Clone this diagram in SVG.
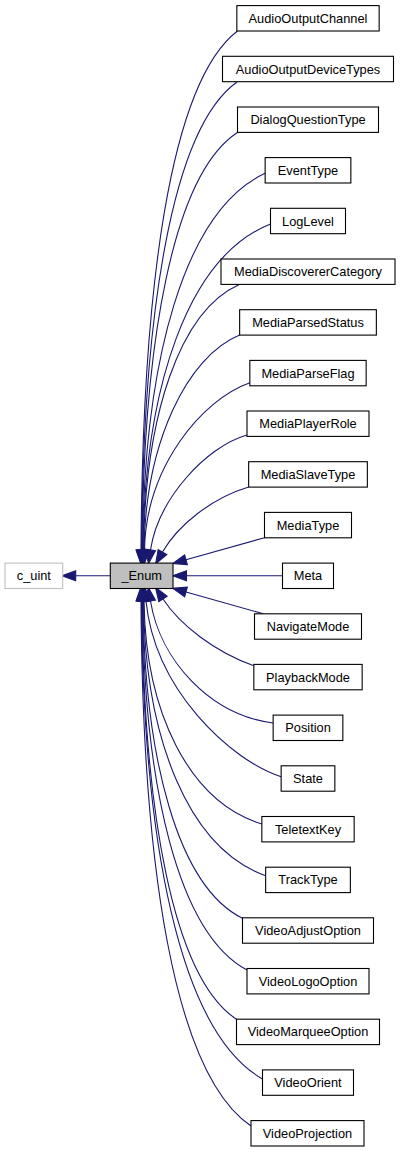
<svg xmlns="http://www.w3.org/2000/svg" width="400" height="1152" viewBox="0 0 400 1152">
<style>
.n rect{fill:#fff;stroke:#000;stroke-width:1.1}
.n text{font-family:"Liberation Sans",Arial,sans-serif;font-size:12.8px;text-anchor:middle;fill:#000}
#edges path{fill:none;stroke:#191970;stroke-width:1.1;marker-end:url(#ah)}
</style>
<defs>
<marker id="ah" markerUnits="userSpaceOnUse" markerWidth="14" markerHeight="10" viewBox="0 0 13 9.4" refX="0" refY="4.7" orient="auto" overflow="visible">
<path d="M0,0 L13,4.7 L0,9.4 z" fill="#191970" stroke="#191970" stroke-width="1"/>
</marker>
</defs>
<rect width="400" height="1152" fill="#fff"/>
<g id="edges">
<path d="M110.3,575.8 L75.7,575.8"/>
<path d="M237.5,31 C169.4,82.9 142.5,290.5 141,550"/>
<path d="M237,82 C171.1,128.8 143,316 141.5,550"/>
<path d="M237.5,132.5 C173,174.25 143.5,341.25 142,550"/>
<path d="M265.15,173.3 C183.8,211 144,361.65 142.5,550"/>
<path d="M270.5,224 C187.8,256.6 144.5,387 143,550"/>
<path d="M239.3,284.4 C178.9,311.2 145,417.35 143.5,550"/>
<path d="M239.65,335 C187,356.5 145.5,442.5 144,550"/>
<path d="M249.85,382.7 C202.4,399.4 146,466.35 144.5,550"/>
<path d="M247,435 C205,447 158,500 150.5,550"/>
<path d="M248.65,487 C212,498 178,525 162.5,552"/>
<path d="M264.5,537.7 L186,559.8"/>
<path d="M282.5,575.8 L186.5,575.8"/>
<path d="M263.3,613.8 L186,592"/>
<path d="M253.85,665.7 C215,652 180,625 163,599"/>
<path d="M273.15,723 C210,715 160,660 150.5,601"/>
<path d="M281.15,776.7 C230,760 155,690 146,601"/>
<path d="M261.85,824 C189.1,801.7 145.5,712.5 144,601"/>
<path d="M265.65,875.7 C188.3,848.2 145,738.35 143.5,601"/>
<path d="M242.5,918.3 C178.3,886.6 144.5,759.65 143,601"/>
<path d="M247,970 C177.8,933.1 144,785.5 142.5,601"/>
<path d="M236.5,1019.2 C172.6,977.3 143.5,810.05 142,601"/>
<path d="M262.5,1079 C178.6,1031.2 143,840 141.5,601"/>
<path d="M251,1126 C173.2,1073.5 142.5,863.5 141,601"/>
</g>
<g id="c_uint" class="n"><rect x="5" y="563.1" width="57.7" height="25.4" style="stroke:#bfbfbf"/><text x="33.85" y="580.3">c_uint</text></g>
<g id="_Enum" class="n"><rect x="110.3" y="563.1" width="62.7" height="25.4" style="fill:#bfbfbf"/><text x="141.65" y="580.3">_Enum</text></g>
<g id="AudioOutputChannel" class="n"><rect x="236.85" y="5.6" width="142.3" height="25.4"/><text x="308" y="22.8">AudioOutputChannel</text></g>
<g id="AudioOutputDeviceTypes" class="n"><rect x="222.5" y="56.3" width="171" height="25.4"/><text x="308" y="73.5">AudioOutputDeviceTypes</text></g>
<g id="DialogQuestionType" class="n"><rect x="237.5" y="107" width="141" height="25.4"/><text x="308" y="124.2">DialogQuestionType</text></g>
<g id="EventType" class="n"><rect x="265.15" y="157.6" width="85.7" height="25.4"/><text x="308" y="174.8">EventType</text></g>
<g id="LogLevel" class="n"><rect x="270.5" y="208.3" width="75" height="25.4"/><text x="308" y="225.5">LogLevel</text></g>
<g id="MediaDiscovererCategory" class="n"><rect x="221" y="259" width="174" height="25.4"/><text x="308" y="276.2">MediaDiscovererCategory</text></g>
<g id="MediaParsedStatus" class="n"><rect x="239.65" y="309.7" width="136.7" height="25.4"/><text x="308" y="326.9">MediaParsedStatus</text></g>
<g id="MediaParseFlag" class="n"><rect x="249.85" y="360.4" width="116.3" height="25.4"/><text x="308" y="377.6">MediaParseFlag</text></g>
<g id="MediaPlayerRole" class="n"><rect x="247" y="411" width="122" height="25.4"/><text x="308" y="428.2">MediaPlayerRole</text></g>
<g id="MediaSlaveType" class="n"><rect x="248.65" y="461.7" width="118.7" height="25.4"/><text x="308" y="478.9">MediaSlaveType</text></g>
<g id="MediaType" class="n"><rect x="264.5" y="512.4" width="87" height="25.4"/><text x="308" y="529.6">MediaType</text></g>
<g id="Meta" class="n"><rect x="282.5" y="563.1" width="51" height="25.4"/><text x="308" y="580.3">Meta</text></g>
<g id="NavigateMode" class="n"><rect x="254.5" y="613.8" width="107" height="25.4"/><text x="308" y="631">NavigateMode</text></g>
<g id="PlaybackMode" class="n"><rect x="253.85" y="664.4" width="108.3" height="25.4"/><text x="308" y="681.6">PlaybackMode</text></g>
<g id="Position" class="n"><rect x="273.15" y="715.1" width="69.7" height="25.4"/><text x="308" y="732.3">Position</text></g>
<g id="State" class="n"><rect x="281.15" y="765.8" width="53.7" height="25.4"/><text x="308" y="783">State</text></g>
<g id="TeletextKey" class="n"><rect x="261.85" y="816.5" width="92.3" height="25.4"/><text x="308" y="833.7">TeletextKey</text></g>
<g id="TrackType" class="n"><rect x="265.65" y="867.2" width="84.7" height="25.4"/><text x="308" y="884.4">TrackType</text></g>
<g id="VideoAdjustOption" class="n"><rect x="242.5" y="917.8" width="131" height="25.4"/><text x="308" y="935">VideoAdjustOption</text></g>
<g id="VideoLogoOption" class="n"><rect x="247" y="968.5" width="122" height="25.4"/><text x="308" y="985.7">VideoLogoOption</text></g>
<g id="VideoMarqueeOption" class="n"><rect x="236.5" y="1019.2" width="143" height="25.4"/><text x="308" y="1036.4">VideoMarqueeOption</text></g>
<g id="VideoOrient" class="n"><rect x="262.5" y="1069.9" width="91" height="25.4"/><text x="308" y="1087.1">VideoOrient</text></g>
<g id="VideoProjection" class="n"><rect x="251" y="1120.6" width="113" height="25.4"/><text x="307.5" y="1137.8">VideoProjection</text></g>
</svg>
